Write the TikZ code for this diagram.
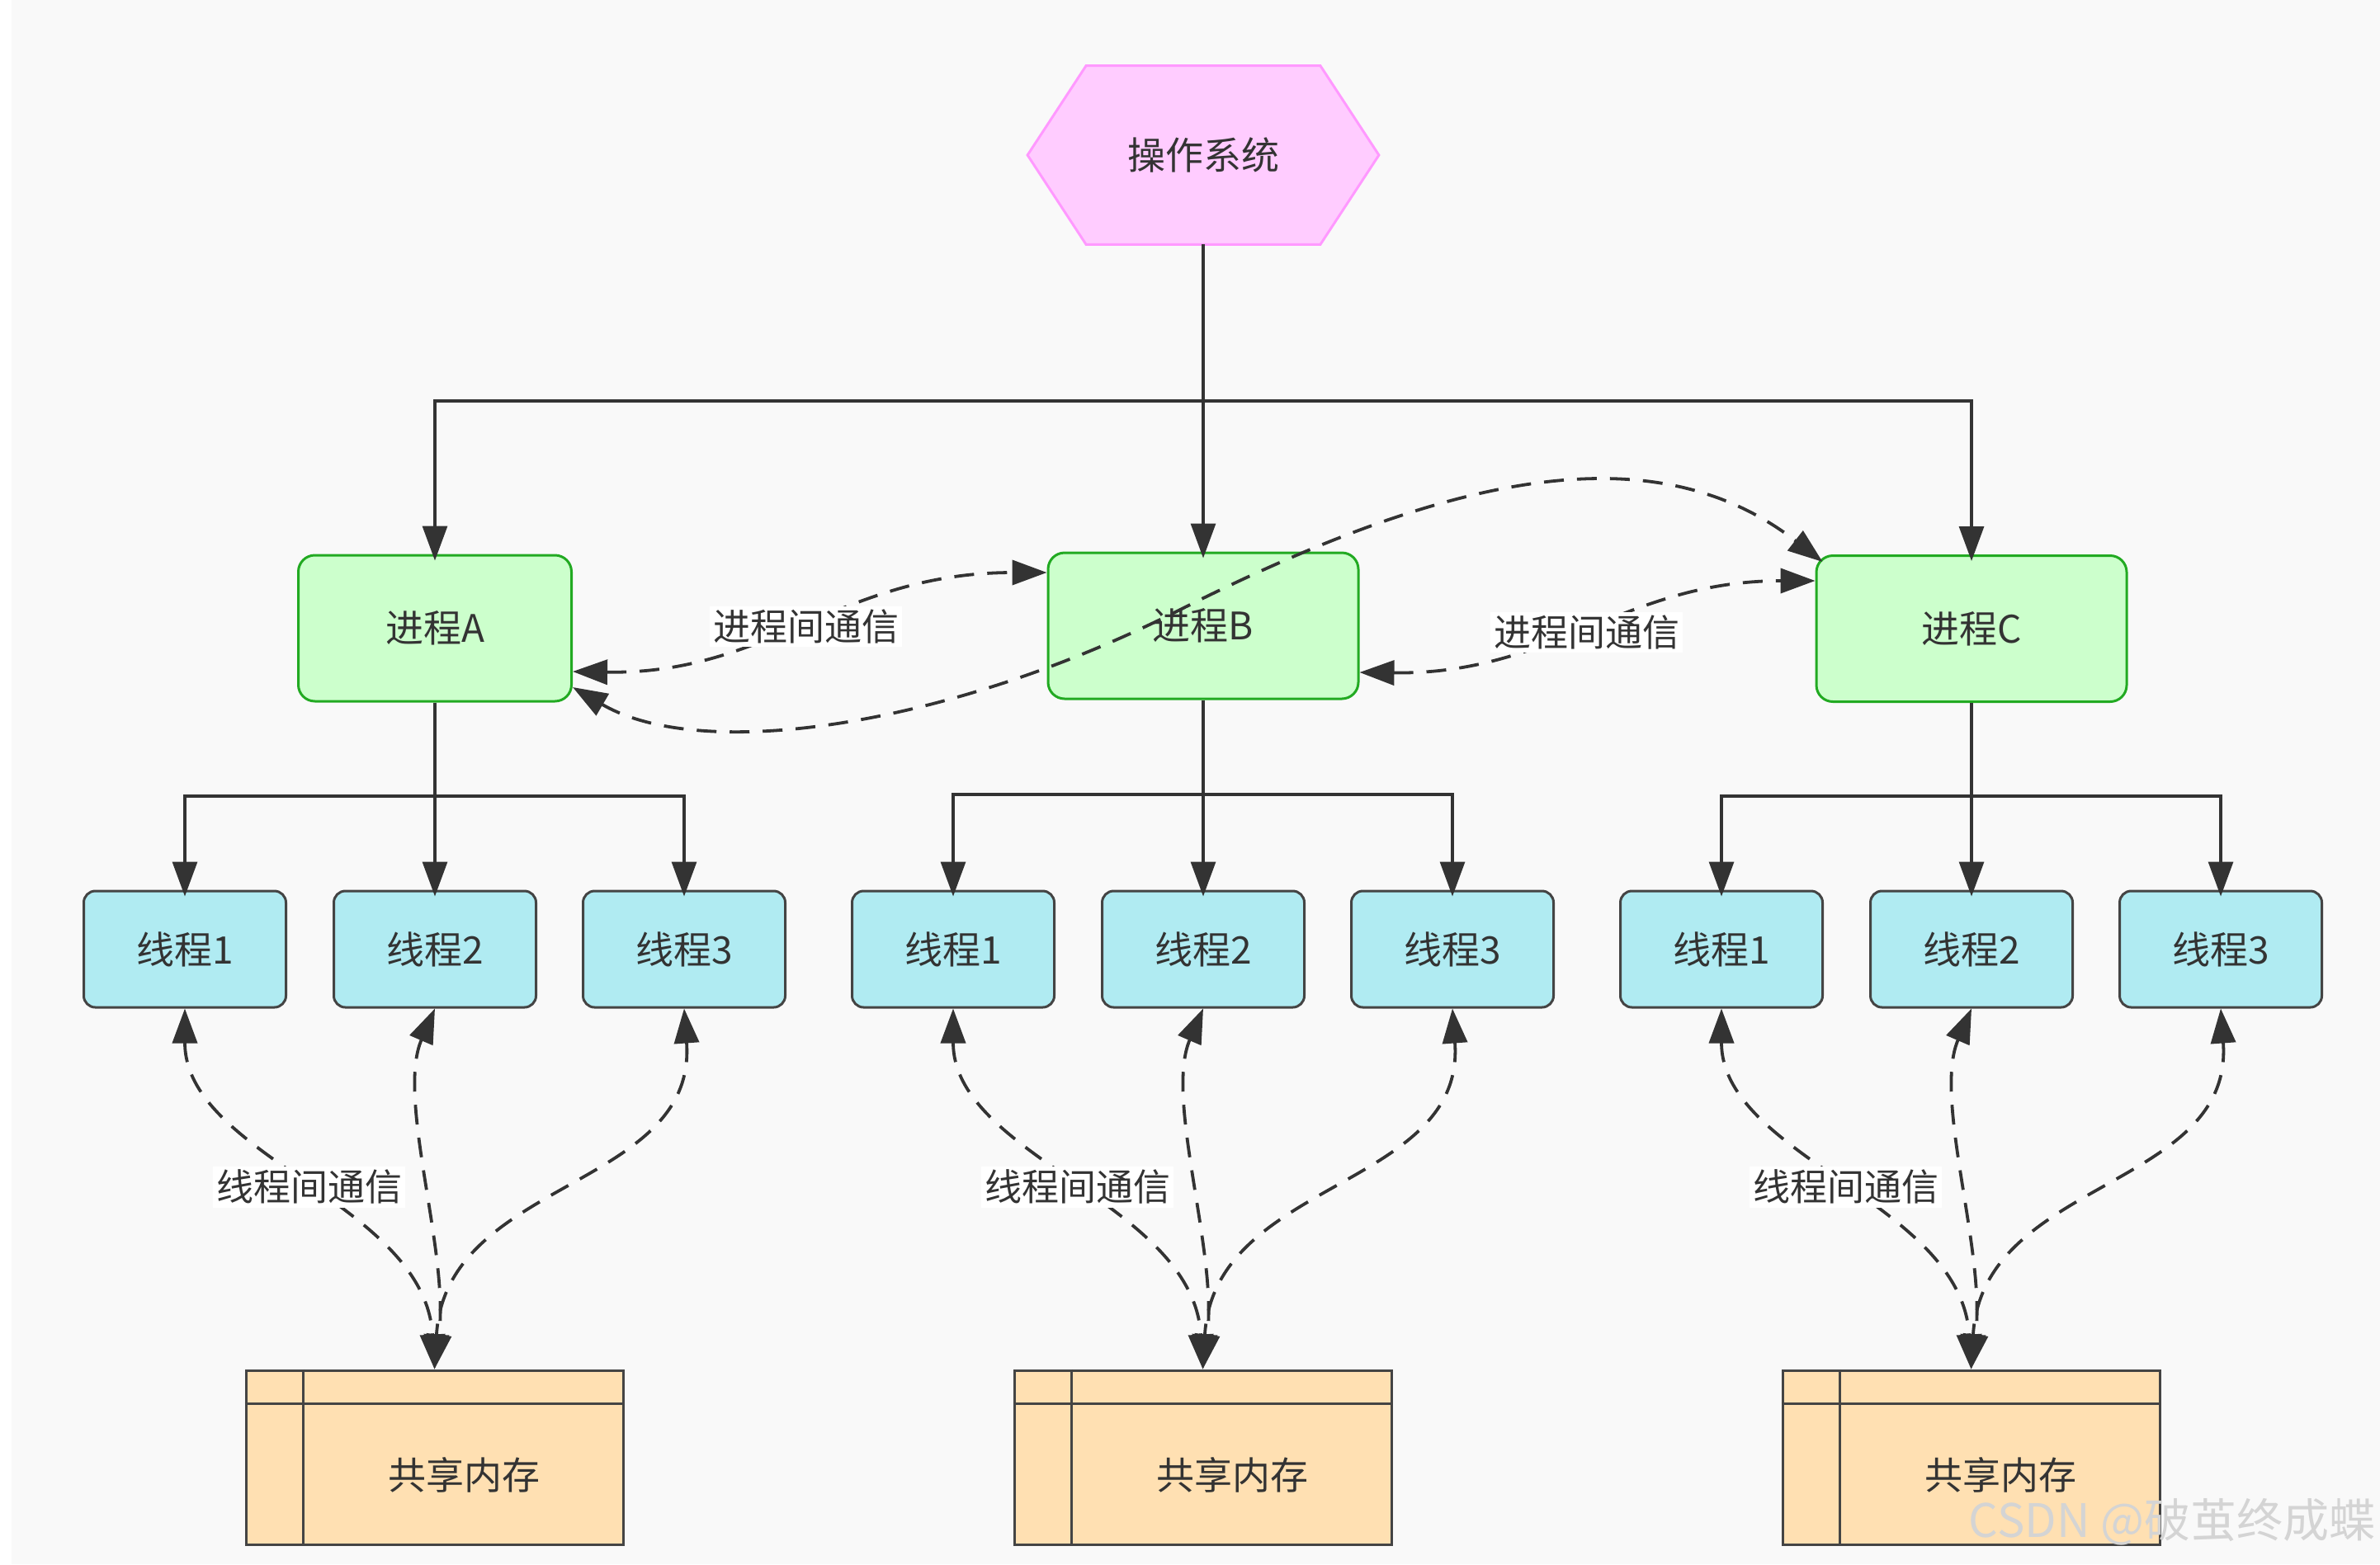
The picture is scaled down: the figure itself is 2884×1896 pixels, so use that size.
\documentclass[tikz,border=0pt]{standalone}
\usepackage{fontspec}
\setmainfont{Noto Sans CJK SC}
\usetikzlibrary{arrows.meta,calc}
\definecolor{bg}{HTML}{F9F9F9}
\definecolor{ln}{HTML}{333333}
\definecolor{txt}{HTML}{333333}
\definecolor{osfill}{HTML}{FFCCFF}
\definecolor{osdraw}{HTML}{FF99FF}
\definecolor{pfill}{HTML}{CCFFCC}
\definecolor{pdraw}{HTML}{22AA22}
\definecolor{tfill}{HTML}{B0EBF2}
\definecolor{bdraw}{HTML}{444444}
\definecolor{mfill}{HTML}{FFE0B2}
\definecolor{wm}{HTML}{D4D4D4}
\begin{document}
\begin{tikzpicture}[x=0.5pt,y=-0.5pt,
  every node/.style={font=\fontsize{23pt}{27pt}\selectfont, text=txt},
  proc/.style={draw=pdraw, fill=pfill, line width=1.5pt, rounded corners=10pt, minimum width=188pt, minimum height=88.5pt, inner sep=0pt},
  thr/.style={draw=bdraw, fill=tfill, line width=1.5pt, rounded corners=7pt, minimum width=122.5pt, minimum height=70.5pt, inner sep=0pt},
  mem/.style={draw=bdraw, fill=mfill, line width=1.5pt, minimum width=228.5pt, minimum height=105.5pt, inner sep=0pt},
  memline/.style={draw=bdraw, line width=1.5pt},
  arr/.style={draw=ln, line width=1.6pt, -{Triangle[length=21pt,width=15pt]}, shorten >=-4pt},
  dar/.style={draw=ln, line width=1.9pt, dash pattern=on 12pt off 8pt, {Triangle[length=21pt,width=15pt]}-{Triangle[length=21pt,width=15pt]}},
  lab/.style={fill=white, inner sep=2pt, font=\fontsize{22.5pt}{26pt}\selectfont},
]
\useasboundingbox (0,0) rectangle (2884,1896);
\fill[white] (0,0) rectangle (2884,1896);
\fill[bg] (14,0) rectangle (2884,1896);

% operating system hexagon
\node[minimum width=212.5pt, minimum height=108pt, inner sep=0pt] (os) at (1458,188) {};
\filldraw[fill=osfill, draw=osdraw, line width=1.5pt] (os.west) -- ($(os.north west)+(71,0)$) -- ($(os.north east)+(-71,0)$) -- (os.east) -- ($(os.south east)+(-71,0)$) -- ($(os.south west)+(71,0)$) -- cycle;
\node (oslabel) at (os.center) {操作系统};

% processes
\node[proc, minimum width=165.5pt] (pA) at (527,761.5) {进程A};
\node[proc] (pB) at (1458,758.5) {进程B};
\node[proc] (pC) at (2389,762) {进程C};

\coordinate (busT) at (1458,486);
\draw[arr] (os.south) -- (pB.north);
\draw[arr] (busT) -| (pA.north);
\draw[arr] (busT) -| (pC.north);

% threads, memory and their connectors
\foreach \g/\cx/\by in {A/527/965,B/1458/963,C/2389/965} {
  \node[thr] (t\g1) at (\cx-303,1150.5) {线程1};
  \node[thr] (t\g2) at (\cx,1150.5) {线程2};
  \node[thr] (t\g3) at (\cx+302,1150.5) {线程3};
  \coordinate (bus\g) at (\cx,\by);
  \draw[arr] (p\g.south) -- (t\g2.north);
  \draw[arr] (bus\g) -| (t\g1.north);
  \draw[arr] (bus\g) -| (t\g3.north);
  \node[mem] (m\g) at (\cx-0.5,1766.5) {};
  \draw[memline] ($(m\g.north west)+(71,0)$) -- ($(m\g.south west)+(71,0)$);
  \draw[memline] ($(m\g.north west)+(0,42)$) -- ($(m\g.north east)+(0,42)$);
  \node (m\g t) at ($(m\g.center)+(35.5,21)$) {共享内存};
  \draw[dar] (t\g1.south) .. controls ($(t\g1.south)+(0,179)$) and ($(m\g.north)+(-11.5,-201)$) .. (m\g.north) node[lab, pos=0.5, xshift=2pt, yshift=-3pt] (lt\g) {线程间通信};
  \draw[dar] (t\g2.south) .. controls ($(t\g2.south)+(-47,109)$) and ($(m\g.north)+(18.5,-141)$) .. (m\g.north);
  \draw[dar] (t\g3.south) .. controls ($(t\g3.south)+(16,219)$) and ($(m\g.north)+(13.5,-231)$) .. (m\g.north);
}

% inter-process communication
\draw[dar] ($(pA.east)+(0,52.5)$) .. controls ($(pA.east)+(237.5,56.5)$) and ($(pB.west)+(-250,-64.5)$) .. ($(pB.west)+(0,-64.5)$) node[lab, pos=0.5, yshift=-2pt] (lAB) {进程间通信};
\draw[dar] ($(pB.east)+(0,56.5)$) .. controls ($(pB.east)+(234,59.5)$) and ($(pC.west)+(-231,-58)$) .. ($(pC.west)+(0,-58)$) node[lab, pos=0.5, xshift=-1pt, yshift=-3pt] (lBC) {进程间通信};
\draw[dar] ($(pA.east)+(0,71.5)$) .. controls ($(pA.east)+(157.5,163.5)$) and ($(pB.center)+(-308,121.5)$) .. ($(pB.center)+(-32,-17.5)$) .. controls ($(pB.center)+(285,-177.5)$) and ($(pC.north west)+(-201,-154)$) .. ($(pC.north west)+(9,9)$);

% watermark
\node[text=wm, font=\fontsize{28pt}{32pt}\selectfont, inner sep=0pt] (wmark) at (2632,1845) {CSDN @破茧终成蝶};
\end{tikzpicture}
\end{document}
